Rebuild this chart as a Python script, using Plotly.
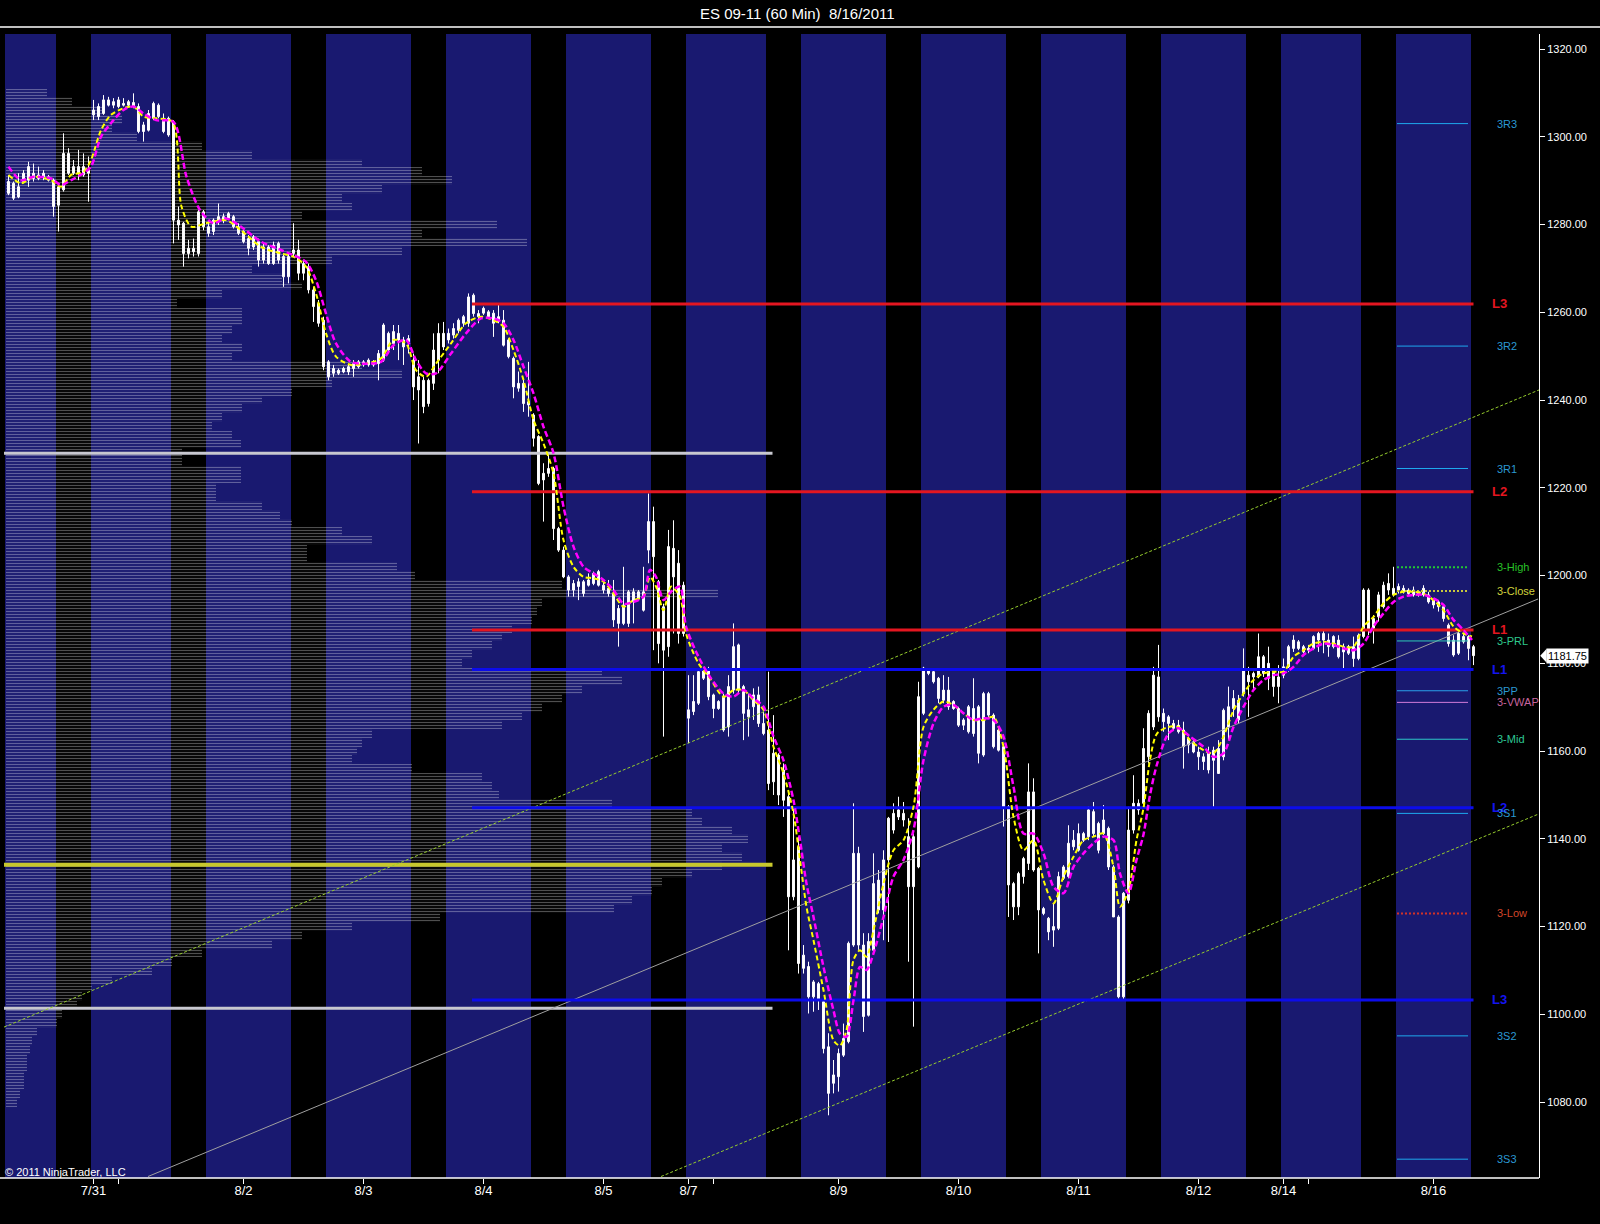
import plotly.graph_objects as go

# ---------------- data ----------------
opens = [
    1289.8, 1289.4, 1286.3, 1289.8, 1290.1, 1291.7, 1290.5, 1291.7, 1290.9, 1290.1,
    1284.4, 1287.9, 1296.2, 1291.7, 1293.2, 1291.3, 1292.4, 1305.0, 1306.9, 1305.3,
    1308.4, 1307.2, 1306.9, 1307.6, 1307.2, 1307.8, 1306.9, 1301.2, 1301.5, 1304.2,
    1307.2, 1304.2, 1300.4, 1303.4, 1281.0, 1280.3, 1273.4, 1274.6, 1273.4, 1282.9,
    1279.5, 1278.4, 1280.6, 1281.8, 1281.4, 1281.8, 1279.5, 1278.4, 1276.8, 1274.9,
    1276.1, 1271.9, 1274.9, 1271.1, 1275.7, 1272.7, 1268.1, 1273.4, 1274.2, 1268.9,
    1270.4, 1265.1, 1262.0, 1258.2, 1248.7, 1246.1, 1246.8, 1246.4, 1247.6, 1247.2,
    1248.7, 1248.0, 1248.0, 1248.7, 1248.3, 1249.1, 1255.2, 1252.9, 1255.2, 1253.7,
    1253.3, 1249.1, 1242.3, 1244.5, 1239.2, 1243.8, 1249.1, 1255.2, 1253.7, 1254.8,
    1255.9, 1257.5, 1257.5, 1263.9, 1259.7, 1259.8, 1260.1, 1259.8, 1257.9, 1258.2,
    1253.7, 1249.5, 1242.7, 1243.8, 1238.9, 1236.6, 1231.7, 1221.8, 1223.3, 1224.4,
    1210.7, 1205.8, 1199.7, 1196.7, 1197.5, 1198.6, 1197.8, 1198.2, 1200.9, 1197.8,
    1197.1, 1195.9, 1192.5, 1189.1, 1189.1, 1196.3, 1194.8, 1196.3, 1205.8, 1212.3,
    1198.6, 1183.0, 1183.8, 1206.2, 1202.8, 1186.8, 1169.4, 1169.0, 1170.9, 1178.5,
    1178.5, 1172.8, 1169.7, 1172.4, 1165.5, 1173.9, 1184.2, 1174.7, 1167.8, 1170.1,
    1172.8, 1166.3, 1164.8, 1153.0, 1159.1, 1155.7, 1149.6, 1126.8, 1138.2, 1110.5,
    1110.9, 1104.0, 1107.0, 1102.9, 1092.6, 1084.3, 1085.8, 1090.7, 1093.8, 1115.8,
    1136.7, 1115.8, 1099.8, 1114.6, 1130.6, 1123.8, 1135.2, 1142.0, 1145.0, 1145.8,
    1140.5, 1129.1, 1133.6, 1168.6, 1178.5, 1178.1, 1176.6, 1171.6, 1173.9, 1169.7,
    1169.7, 1165.9, 1164.4, 1169.7, 1159.5, 1159.1, 1173.1, 1168.2, 1160.2, 1161.0,
    1147.3, 1129.8, 1124.5, 1131.4, 1134.4, 1150.7, 1133.3, 1124.1, 1121.9, 1119.2,
    1119.6, 1131.0, 1131.4, 1138.2, 1141.2, 1139.7, 1140.5, 1146.2, 1143.5, 1141.2,
    1142.4, 1133.6, 1122.2, 1104.0, 1126.0, 1142.0, 1148.1, 1148.1, 1158.7, 1165.5,
    1176.9, 1166.7, 1167.8, 1166.3, 1164.4, 1164.8, 1161.4, 1162.1, 1159.8, 1158.7,
    1155.7, 1160.2, 1154.9, 1158.7, 1165.5, 1169.7, 1171.6, 1173.1, 1177.3, 1176.9,
    1176.9, 1181.5, 1176.6, 1178.5, 1174.7, 1177.3, 1179.2, 1183.4, 1184.9, 1183.8,
    1183.0, 1183.4, 1185.3, 1186.8, 1185.3, 1183.8, 1185.3, 1182.6, 1183.8, 1181.1,
    1181.1, 1186.1, 1196.7, 1188.0, 1190.6, 1192.9, 1196.7, 1197.1, 1196.7, 1197.1,
    1195.9, 1196.7, 1195.6, 1195.6, 1195.6, 1194.4, 1194.0, 1192.9, 1188.7, 1185.3,
    1182.3, 1186.1, 1186.1, 1183.8,
]
highs = [
    1291.3, 1289.8, 1291.7, 1292.4, 1294.3, 1293.9, 1293.2, 1292.4, 1291.3, 1290.5,
    1289.4, 1300.8, 1297.4, 1294.7, 1297.0, 1296.2, 1295.5, 1308.4, 1307.6, 1309.5,
    1309.1, 1308.8, 1309.1, 1308.8, 1308.4, 1309.9, 1307.6, 1303.4, 1306.1, 1308.0,
    1307.6, 1305.3, 1304.6, 1303.8, 1284.1, 1280.6, 1276.5, 1276.8, 1283.3, 1283.3,
    1281.0, 1281.4, 1284.8, 1282.5, 1282.9, 1282.2, 1280.3, 1278.7, 1277.6, 1277.6,
    1276.8, 1275.7, 1275.3, 1276.1, 1276.1, 1273.4, 1273.4, 1280.3, 1276.5, 1271.9,
    1271.1, 1265.8, 1262.8, 1259.0, 1249.1, 1248.0, 1247.2, 1247.6, 1248.0, 1249.1,
    1249.1, 1249.1, 1249.5, 1249.1, 1251.4, 1257.5, 1255.6, 1257.1, 1257.1, 1254.4,
    1254.8, 1250.6, 1249.1, 1245.3, 1244.9, 1255.2, 1257.5, 1257.8, 1256.3, 1257.5,
    1258.6, 1259.4, 1264.3, 1264.3, 1260.5, 1261.3, 1260.5, 1260.5, 1261.7, 1260.5,
    1254.1, 1249.9, 1246.5, 1244.6, 1248.7, 1237.0, 1232.0, 1225.6, 1228.2, 1224.8,
    1211.1, 1206.6, 1200.1, 1199.0, 1199.4, 1199.0, 1200.5, 1200.9, 1201.3, 1198.6,
    1199.0, 1199.0, 1193.3, 1202.0, 1196.7, 1197.1, 1196.7, 1202.0, 1218.7, 1215.7,
    1199.0, 1193.6, 1210.4, 1212.6, 1205.8, 1198.6, 1177.3, 1177.3, 1178.9, 1179.2,
    1179.2, 1173.1, 1171.6, 1173.1, 1177.3, 1189.1, 1184.5, 1175.1, 1173.1, 1174.3,
    1174.7, 1169.0, 1178.1, 1168.2, 1159.5, 1157.2, 1150.4, 1147.3, 1140.5, 1115.8,
    1112.0, 1107.8, 1107.4, 1103.3, 1095.7, 1089.6, 1092.2, 1097.9, 1116.6, 1148.1,
    1138.2, 1118.5, 1118.5, 1136.7, 1132.9, 1137.4, 1145.0, 1148.1, 1149.6, 1148.4,
    1144.7, 1141.2, 1175.8, 1179.2, 1178.9, 1178.9, 1176.9, 1177.3, 1176.9, 1171.6,
    1170.1, 1167.5, 1170.5, 1176.6, 1170.5, 1173.5, 1173.5, 1168.6, 1165.2, 1161.4,
    1147.7, 1130.2, 1132.5, 1135.9, 1157.2, 1153.8, 1133.6, 1124.5, 1122.2, 1125.3,
    1132.5, 1134.0, 1143.1, 1142.0, 1143.5, 1141.6, 1147.3, 1148.4, 1143.9, 1147.7,
    1142.8, 1134.0, 1122.6, 1127.9, 1147.3, 1154.5, 1149.0, 1165.2, 1169.3, 1179.2,
    1184.2, 1169.7, 1168.2, 1167.1, 1167.1, 1166.7, 1163.3, 1162.9, 1161.0, 1159.5,
    1161.0, 1161.0, 1162.5, 1169.7, 1174.7, 1173.9, 1172.8, 1183.4, 1179.2, 1178.1,
    1186.8, 1181.9, 1183.8, 1178.8, 1179.6, 1181.1, 1184.2, 1186.4, 1185.3, 1184.2,
    1184.2, 1186.4, 1187.2, 1187.6, 1186.8, 1186.4, 1186.4, 1184.5, 1184.2, 1186.1,
    1186.8, 1197.1, 1197.1, 1191.0, 1196.3, 1198.6, 1200.5, 1202.0, 1198.2, 1197.8,
    1197.1, 1197.5, 1196.7, 1197.8, 1196.3, 1194.8, 1194.4, 1193.3, 1189.1, 1186.4,
    1187.2, 1186.8, 1186.4, 1184.2,
]
lows = [
    1286.7, 1285.6, 1286.0, 1289.4, 1288.6, 1289.8, 1290.1, 1290.1, 1289.8, 1281.8,
    1278.4, 1287.5, 1291.3, 1291.3, 1290.1, 1290.9, 1285.2, 1303.8, 1303.8, 1305.0,
    1306.9, 1306.5, 1306.5, 1306.9, 1306.9, 1306.5, 1300.8, 1298.9, 1301.2, 1303.8,
    1304.2, 1300.8, 1300.0, 1275.7, 1276.5, 1270.4, 1272.3, 1272.7, 1272.7, 1278.7,
    1277.2, 1277.6, 1279.9, 1280.3, 1281.0, 1279.1, 1277.6, 1275.7, 1273.0, 1274.2,
    1270.4, 1271.1, 1270.8, 1270.8, 1271.1, 1265.8, 1266.6, 1272.7, 1267.3, 1267.3,
    1264.3, 1257.8, 1256.7, 1246.8, 1244.5, 1245.3, 1245.7, 1246.1, 1245.7, 1245.3,
    1247.2, 1247.6, 1247.6, 1247.6, 1244.5, 1248.7, 1251.0, 1251.4, 1249.1, 1248.0,
    1250.6, 1240.0, 1230.1, 1237.0, 1238.5, 1242.3, 1246.1, 1251.4, 1252.9, 1254.0,
    1255.2, 1256.7, 1256.7, 1259.0, 1257.5, 1259.4, 1258.6, 1254.4, 1257.5, 1252.2,
    1249.5, 1240.4, 1241.9, 1237.3, 1236.2, 1229.4, 1220.6, 1212.3, 1222.5, 1208.1,
    1205.4, 1199.4, 1195.2, 1195.2, 1194.4, 1195.2, 1197.5, 1197.8, 1197.5, 1195.9,
    1195.2, 1188.3, 1183.8, 1188.7, 1188.3, 1189.1, 1194.4, 1191.8, 1202.8, 1183.0,
    1180.0, 1163.3, 1181.5, 1186.8, 1184.5, 1186.1, 1161.8, 1168.2, 1170.5, 1176.2,
    1171.6, 1167.5, 1169.4, 1164.4, 1163.3, 1173.1, 1173.1, 1162.5, 1163.3, 1167.1,
    1165.5, 1163.6, 1151.1, 1150.0, 1147.7, 1145.0, 1114.6, 1126.0, 1109.3, 1109.3,
    1100.2, 1100.6, 1101.0, 1091.1, 1077.0, 1082.0, 1082.4, 1090.3, 1093.4, 1115.4,
    1114.7, 1096.0, 1099.5, 1113.9, 1123.0, 1116.9, 1116.5, 1141.2, 1144.3, 1142.8,
    1112.0, 1097.2, 1133.3, 1168.2, 1177.3, 1175.4, 1170.9, 1170.9, 1169.4, 1169.4,
    1165.5, 1164.8, 1164.0, 1163.3, 1157.2, 1158.7, 1167.8, 1160.6, 1159.9, 1142.8,
    1122.2, 1121.5, 1122.6, 1129.8, 1132.9, 1132.5, 1113.9, 1122.6, 1116.9, 1115.4,
    1119.2, 1130.6, 1131.0, 1137.4, 1137.1, 1139.3, 1139.7, 1140.5, 1136.7, 1140.9,
    1132.9, 1122.2, 1103.6, 1103.3, 1125.3, 1141.2, 1145.5, 1147.3, 1157.2, 1164.8,
    1166.7, 1164.4, 1162.5, 1164.8, 1164.0, 1156.0, 1159.5, 1159.5, 1155.7, 1155.7,
    1154.9, 1147.3, 1154.9, 1157.9, 1162.5, 1167.8, 1166.3, 1172.4, 1167.8, 1173.9,
    1176.6, 1176.9, 1173.9, 1172.4, 1170.9, 1176.6, 1178.1, 1182.6, 1183.0, 1182.3,
    1182.3, 1183.0, 1182.6, 1182.3, 1181.5, 1183.4, 1181.1, 1178.8, 1181.9, 1179.2,
    1180.7, 1185.7, 1186.4, 1184.5, 1189.5, 1192.5, 1195.6, 1195.2, 1195.9, 1195.9,
    1195.6, 1195.2, 1195.2, 1195.2, 1193.6, 1192.5, 1191.8, 1189.5, 1183.8, 1181.5,
    1181.9, 1184.5, 1180.7, 1179.6,
]
closes = [
    1287.1, 1286.0, 1288.6, 1291.7, 1293.2, 1290.5, 1291.3, 1290.9, 1290.1, 1284.1,
    1288.6, 1296.2, 1291.7, 1293.2, 1291.7, 1293.2, 1291.7, 1306.1, 1304.6, 1308.4,
    1307.2, 1308.0, 1308.4, 1307.2, 1308.0, 1306.9, 1301.2, 1302.7, 1305.3, 1307.6,
    1304.6, 1301.2, 1304.2, 1281.0, 1279.9, 1273.4, 1274.6, 1273.8, 1282.9, 1279.5,
    1278.0, 1281.0, 1281.8, 1281.0, 1282.5, 1279.5, 1278.0, 1276.1, 1274.6, 1277.2,
    1271.9, 1274.9, 1271.1, 1275.3, 1271.9, 1268.1, 1272.7, 1274.2, 1268.9, 1271.1,
    1265.1, 1261.3, 1257.5, 1247.6, 1245.3, 1247.2, 1246.1, 1247.2, 1246.4, 1248.3,
    1247.6, 1248.7, 1249.1, 1248.0, 1250.6, 1257.1, 1251.4, 1255.6, 1253.7, 1252.1,
    1254.0, 1243.0, 1245.3, 1238.5, 1244.5, 1251.4, 1255.2, 1252.1, 1255.2, 1256.3,
    1258.2, 1259.0, 1263.5, 1259.7, 1259.0, 1260.9, 1259.0, 1257.5, 1259.0, 1252.5,
    1249.9, 1243.0, 1243.8, 1239.2, 1239.6, 1231.3, 1221.0, 1223.3, 1224.4, 1210.7,
    1205.8, 1199.7, 1196.7, 1198.2, 1198.6, 1195.9, 1199.0, 1200.5, 1197.8, 1196.7,
    1195.9, 1189.9, 1189.1, 1193.3, 1196.3, 1194.0, 1196.3, 1192.1, 1212.3, 1204.3,
    1184.5, 1192.9, 1206.6, 1199.7, 1186.8, 1197.8, 1167.5, 1171.3, 1178.1, 1176.6,
    1172.4, 1169.7, 1171.3, 1164.8, 1174.7, 1183.8, 1173.9, 1168.6, 1169.4, 1172.8,
    1166.3, 1164.0, 1152.6, 1159.5, 1150.0, 1148.8, 1126.8, 1135.2, 1111.6, 1113.5,
    1104.0, 1107.4, 1103.3, 1092.2, 1082.0, 1086.2, 1091.1, 1094.5, 1116.2, 1136.7,
    1115.8, 1099.5, 1116.6, 1129.8, 1123.8, 1135.2, 1144.7, 1145.8, 1146.6, 1144.3,
    1129.1, 1140.5, 1172.4, 1178.9, 1177.7, 1175.8, 1172.0, 1173.9, 1170.1, 1171.3,
    1165.9, 1167.1, 1170.1, 1164.0, 1170.1, 1173.1, 1168.2, 1161.0, 1164.8, 1147.3,
    1129.5, 1124.5, 1132.1, 1135.5, 1150.7, 1132.9, 1123.8, 1123.0, 1118.8, 1120.0,
    1131.4, 1133.6, 1139.0, 1139.7, 1137.4, 1141.2, 1146.6, 1141.2, 1137.4, 1144.3,
    1133.6, 1122.2, 1104.0, 1127.6, 1142.0, 1148.1, 1146.6, 1160.6, 1168.6, 1177.3,
    1167.8, 1168.6, 1166.3, 1165.2, 1165.9, 1161.0, 1162.9, 1159.8, 1158.7, 1157.6,
    1159.5, 1157.9, 1160.6, 1169.3, 1170.1, 1172.0, 1167.1, 1178.5, 1175.8, 1177.7,
    1181.5, 1177.7, 1180.0, 1174.7, 1176.9, 1179.2, 1183.8, 1185.3, 1183.4, 1182.6,
    1183.4, 1186.1, 1186.8, 1185.3, 1183.8, 1186.1, 1181.5, 1183.8, 1182.3, 1183.8,
    1186.4, 1196.7, 1187.6, 1190.2, 1195.6, 1197.8, 1198.2, 1195.6, 1197.5, 1196.3,
    1196.7, 1195.6, 1196.3, 1197.1, 1194.0, 1193.3, 1192.9, 1190.2, 1184.5, 1181.9,
    1186.8, 1184.9, 1183.4, 1181.75,
]

# overnight (globex) session spans, in bar positions
session_start = [-0.7, 16.5, 39.5, 63.5, 87.5, 111.5, 135.5, 158.5, 182.5, 206.5, 230.5, 254.5, 277.5]
session_end = [9.5, 32.5, 56.5, 80.5, 104.5, 128.5, 151.5, 175.5, 199.5, 223.5, 247.5, 270.5, 292.5]

# first bar of each date
date_tick_bars = [17, 22, 47, 71, 95, 119, 136, 141, 166, 190, 214, 238, 255, 260, 285]
date_tick_labels = ["7/31", "", "8/2", "8/3", "8/4", "8/5", "8/7", "", "8/9", "8/10",
                    "8/11", "8/12", "8/14", "", "8/16"]

# fast (yellow) and slow (magenta) moving averages
fast_x = [0, 2.5, 5, 8.5, 10.5, 12.5, 15, 16.5, 18.5, 20.5, 23, 25, 27, 29.5,
          32.8, 34.6, 36.6, 39.5,
          43.5, 46.5, 50.5, 54.5, 57, 59.5, 61.5, 63.5, 65.5, 68.5, 71.5, 74.5, 77, 79.5,
          81.5, 83.5, 85.5, 88.5, 91.5, 94.5, 97,
          99, 101, 103, 105, 107, 109, 111, 113, 115, 117, 119, 121, 123, 125, 127,
          128.3, 129.5, 131, 132.5, 134.3, 135.5, 138, 140.3,
          143, 145, 147, 149, 151, 153, 155, 157,
          158.3, 159.6, 161, 163, 165, 166.3, 167.6, 169, 170.3, 171.6, 173,
          175, 177, 179, 181, 183, 185, 187, 189, 191, 193, 195, 197, 199, 201, 203, 205,
          207, 209, 211, 213, 215, 217, 219, 221,
          222.3, 224, 225.6, 227, 228.3, 229.7,
          232, 234, 236.3,
          239, 241, 243, 245, 247, 249, 251, 253, 255, 257, 259, 261, 263, 265, 267, 269,
          271, 273, 275, 277, 279, 281, 283, 285, 287, 289, 291,
          292.7]
fast_y = [1291.3, 1289.4, 1290.9, 1290.1, 1288.6, 1291.3, 1292.0, 1294.7, 1301.5, 1305.0,
          1306.5, 1306.9, 1304.6, 1304.2,
          1303.4, 1284.1, 1279.5, 1280.3,
          1281.0, 1278.7, 1274.9, 1273.4, 1272.7, 1270.4, 1264.3, 1255.2, 1249.9, 1248.0,
          1248.3, 1249.5, 1253.7, 1252.9, 1246.8, 1245.3, 1248.3, 1252.9, 1257.5, 1259.0, 1258.2,
          1256.7, 1251.4, 1244.6, 1235.5, 1230.1, 1223.3, 1208.1, 1202.0, 1199.7, 1199.4,
          1198.6, 1195.9, 1192.9, 1194.4, 1195.2,
          1199.7, 1197.5, 1192.1, 1197.5, 1195.2, 1186.8, 1180.0, 1176.6,
          1172.4, 1173.9, 1173.9, 1171.6, 1169.4, 1161.0, 1154.9, 1145.8,
          1135.2, 1124.5, 1116.9, 1105.5, 1094.1, 1092.9, 1096.4, 1112.4, 1114.6, 1113.1, 1119.2,
          1129.8, 1137.4, 1139.7, 1147.3, 1165.5, 1169.4, 1171.3, 1170.5, 1168.6, 1167.1,
          1167.1, 1167.8, 1161.0, 1145.0, 1137.4, 1139.7, 1130.6, 1125.3, 1131.4, 1135.9,
          1139.7, 1140.5, 1141.2, 1133.6,
          1124.5, 1128.3, 1139.7, 1147.0, 1158.0, 1164.0,
          1165.5, 1165.5, 1162.5,
          1160.2, 1159.5, 1163.3, 1169.3, 1173.1, 1176.2, 1177.7, 1178.1, 1178.1, 1181.5,
          1183.0, 1184.5, 1184.9, 1184.5, 1183.8, 1183.8, 1188.4, 1190.6, 1193.7, 1195.6,
          1196.3, 1196.3, 1195.9, 1194.4, 1192.1, 1188.4, 1186.8,
          1186.1]
slow_x = [0, 2.5, 5, 8.5, 10.5, 12.5, 15, 16.5, 18.5, 20.5, 23, 25, 27, 29.5,
          33, 35.6, 38.3, 41,
          43.5, 46.5, 50.5, 54.5, 57, 59.5, 61.5, 63.5, 65.5, 68.5, 71.5, 74.5, 77, 79.5,
          81.5, 83.5, 85.5, 88.5, 91.5, 94.5, 97,
          99, 101, 103, 105, 107, 109, 111, 113, 115, 117, 119, 121, 123, 125, 127,
          128.3, 129.5, 131, 132.5, 134.3, 135.5, 138, 140.3,
          143, 145, 147, 149, 151, 153, 155, 157,
          158.3, 159.6, 161, 163, 165, 166.3, 167.6, 169, 170.3, 171.6, 173,
          175, 177, 179, 181, 183, 185, 187, 189, 191, 193, 195, 197, 199, 201, 203, 205,
          207, 209, 211, 213, 215, 217, 219, 221,
          222.3, 224, 225.6, 227, 228.3, 229.7,
          232, 234, 236.3,
          239, 241, 243, 245, 247, 249, 251, 253, 255, 257, 259, 261, 263, 265, 267, 269,
          271, 273, 275, 277, 279, 281, 283, 285, 287, 289, 291,
          292.7]
slow_y = [1293.2, 1290.1, 1290.9, 1290.5, 1289.0, 1290.1, 1291.7, 1293.2, 1300.0, 1303.1,
          1306.1, 1306.9, 1305.3, 1303.8,
          1303.4, 1290.9, 1283.3, 1280.3,
          1281.4, 1279.5, 1276.1, 1274.2, 1273.0, 1271.5, 1267.3, 1259.7, 1252.9, 1248.7,
          1248.3, 1248.7, 1252.5, 1253.7, 1249.1, 1246.1, 1246.1, 1250.6, 1255.2, 1258.6, 1258.6,
          1257.5, 1253.7, 1247.6, 1241.5, 1233.9, 1227.9, 1215.7, 1206.6, 1202.0, 1200.5,
          1199.0, 1196.7, 1193.6, 1194.0, 1195.2,
          1201.3, 1199.7, 1194.4, 1196.3, 1197.5, 1188.4, 1181.5, 1176.9,
          1173.1, 1172.4, 1173.9, 1172.0, 1170.1, 1163.3, 1157.9, 1148.8,
          1139.7, 1129.8, 1122.2, 1110.8, 1100.9, 1095.6, 1094.9, 1103.2, 1110.8, 1110.1, 1113.9,
          1122.2, 1131.4, 1135.2, 1142.0, 1157.9, 1166.3, 1170.1, 1170.5, 1168.6, 1167.1,
          1167.5, 1167.1, 1163.3, 1151.9, 1141.2, 1141.2, 1136.7, 1129.1, 1127.6, 1133.6,
          1136.7, 1139.0, 1140.5, 1139.7,
          1132.1, 1127.6, 1135.2, 1141.0, 1150.0, 1157.0,
          1164.0, 1165.2, 1163.3,
          1161.0, 1158.7, 1159.5, 1165.5, 1170.1, 1173.9, 1176.2, 1177.3, 1177.7, 1179.2,
          1181.9, 1183.4, 1184.5, 1184.2, 1183.4, 1183.0, 1184.5, 1188.4, 1191.4, 1194.0,
          1195.2, 1195.6, 1195.6, 1194.8, 1193.3, 1189.9, 1187.6,
          1185.3]

# volume profile (2-point bins, length in bar units)
profile_price = [1080, 1082, 1084, 1086, 1088, 1090, 1092, 1094, 1096, 1098,
                 1100, 1102, 1104, 1106, 1108, 1110, 1112, 1114, 1116, 1118,
                 1120, 1122, 1124, 1126, 1128, 1130, 1132, 1134, 1136, 1138,
                 1140, 1142, 1144, 1146, 1148, 1150, 1152, 1154, 1156, 1158,
                 1160, 1162, 1164, 1166, 1168, 1170, 1172, 1174, 1176, 1178,
                 1180, 1182, 1184, 1186, 1188, 1190, 1192, 1194, 1196, 1198,
                 1200, 1202, 1204, 1206, 1208, 1210, 1212, 1214, 1216, 1218,
                 1220, 1222, 1224, 1226, 1228, 1230, 1232, 1234, 1236, 1238,
                 1240, 1242, 1244, 1246, 1248, 1250, 1252, 1254, 1256, 1258,
                 1260, 1262, 1264, 1266, 1268, 1270, 1272, 1274, 1276, 1278,
                 1280, 1282, 1284, 1286, 1288, 1290, 1292, 1294, 1296, 1298,
                 1300, 1302, 1304, 1306, 1308, 1310]
profile_len = [2.2, 2.8, 3.6, 3.6, 4.2, 4.2, 4.8, 5.2, 6.2, 10.2,
               11.2, 14.2, 15.2, 17.2, 21.2, 29.2, 33.2, 39.2, 53.2, 59.2,
               69.2, 86.8, 121.6, 125.2, 129.2, 131.2, 137.2, 143.2, 147.2, 143.2,
               148.4, 145.2, 139.2, 137.2, 121.2, 98.6, 97.2, 95.2, 81.2, 69.2,
               70.2, 71.2, 73.2, 99.2, 103.2, 107.2, 111.2, 115.2, 123.2, 119.2,
               91.2, 93.2, 97.2, 99.2, 101.2, 105.2, 106.2, 107.2, 142.4, 111.2,
               81.8, 78.2, 60.2, 60.2, 73.2, 67.2, 57.2, 54.8, 51.2, 42.0,
               42.0, 47.0, 47.0, 35.2, 35.2, 47.0, 45.2, 41.2, 43.2, 47.2,
               51.2, 57.2, 65.2, 79.2, 71.2, 45.2, 47.2, 43.2, 45.2, 47.2,
               47.2, 34.2, 43.2, 59.2, 55.2, 49.2, 65.2, 79.2, 104.2, 83.2,
               98.2, 59.2, 69.2, 67.2, 75.2, 89.2, 83.2, 71.2, 49.2, 39.2,
               26.2, 21.2, 23.2, 19.2, 13.2, 8.2]
profile_marks = [1227.9, 1101.4]   # white value-area lines
profile_poc = 1134.1               # yellow point of control
profile_mark_end = 152.8

red_levels = [1261.9, 1219.1, 1187.6]
red_names = ["L3", "L2", "L1"]
blue_levels = [1178.6, 1147.1, 1103.3]
blue_names = ["L1", "L2", "L3"]
level_from, level_to = 92.7, 293.0

pivot_names = ["3R3", "3R2", "3R1", "3-High", "3-Close", "3-PRL", "3PP", "3-VWAP",
               "3-Mid", "3S1", "3-Low", "3S2", "3S3"]
pivot_values = [1303.0, 1252.3, 1224.4, 1201.9, 1196.5, 1185.1, 1173.75, 1171.1,
                1162.7, 1145.8, 1123.0, 1095.1, 1067.0]
pivot_from, pivot_to = 277.7, 291.9

channel_upper_x, channel_upper_y = [-0.9, 306.1], [1097.1, 1242.3]
channel_lower_x, channel_lower_y = [130.5, 305.9], [1063.05, 1145.6]
channel_mid_x, channel_mid_y = [27.9, 305.9], [1063.05, 1194.66]

last_price = 1181.75

# ---------------- styles ----------------
X_RANGE = [-0.9, 306.1]
Y_RANGE = [1062.71, 1323.42]
BAND = "#191970"
NARROW = "Liberation Sans Narrow, Arial Narrow, Liberation Sans, Arial, sans-serif"
SANS = "Liberation Sans, Arial, sans-serif"

pivot_line_col = {"3R3": "#1ea8ee", "3R2": "#1ea8ee", "3R1": "#1ea8ee", "3-High": "#22c832",
                  "3-Close": "#c8c83c", "3-PRL": "#2ec8b4", "3PP": "#2aa0ea",
                  "3-VWAP": "#d07ad8", "3-Mid": "#2ec8c8", "3S1": "#1ea8ee",
                  "3-Low": "#d23228", "3S2": "#1ea8ee", "3S3": "#1ea8ee"}
pivot_text_col = {"3R3": "#2b98d2", "3R2": "#2b98d2", "3R1": "#2b98d2", "3-High": "#28c028",
                  "3-Close": "#d2d23c", "3-PRL": "#2ec88c", "3PP": "#2b98d2",
                  "3-VWAP": "#c8649e", "3-Mid": "#2ec896", "3S1": "#2b98d2",
                  "3-Low": "#d2462a", "3S2": "#2b98d2", "3S3": "#2b98d2"}
pivot_dash = {"3-High": "dot", "3-Close": "dot", "3-Low": "dot"}

fig = go.Figure()

# volume profile
fig.add_trace(go.Bar(
    y=profile_price, x=profile_len, base=-0.5, orientation="h", width=2,
    marker=dict(color="rgba(0,0,0,0)", line=dict(width=0),
                pattern=dict(shape="-", fgcolor="rgba(255,255,255,0.62)",
                             bgcolor="rgba(0,0,0,0)", size=3, solidity=0.4)),
    hoverinfo="skip", showlegend=False))

# value area / POC lines
for v in profile_marks:
    fig.add_trace(go.Scatter(x=[X_RANGE[0], profile_mark_end], y=[v, v], mode="lines",
                             line=dict(color="rgb(200,200,208)", width=3),
                             hoverinfo="skip", showlegend=False))
fig.add_trace(go.Scatter(x=[X_RANGE[0], profile_mark_end], y=[profile_poc, profile_poc],
                         mode="lines", line=dict(color="rgb(200,200,45)", width=4),
                         hoverinfo="skip", showlegend=False))

# channel lines
fig.add_trace(go.Scatter(x=channel_mid_x, y=channel_mid_y, mode="lines",
                         line=dict(color="rgb(160,160,160)", width=1),
                         hoverinfo="skip", showlegend=False))
for cx, cy in [(channel_upper_x, channel_upper_y), (channel_lower_x, channel_lower_y)]:
    fig.add_trace(go.Scatter(x=cx, y=cy, mode="lines",
                             line=dict(color="rgb(150,205,45)", width=1, dash="3px,2px"),
                             hoverinfo="skip", showlegend=False))

# candles
n = min(len(opens), len(highs), len(lows), len(closes))
bars = list(range(n))
fig.add_trace(go.Candlestick(
    x=bars, open=opens[:n], high=highs[:n], low=lows[:n], close=closes[:n],
    increasing=dict(line=dict(color="white", width=1), fillcolor="white"),
    decreasing=dict(line=dict(color="white", width=1), fillcolor="white"),
    whiskerwidth=0, hoverinfo="skip", showlegend=False))

# L levels
for v in red_levels:
    fig.add_trace(go.Scatter(x=[level_from, level_to], y=[v, v], mode="lines",
                             line=dict(color="rgb(228,22,32)", width=3),
                             hoverinfo="skip", showlegend=False))
for v in blue_levels:
    fig.add_trace(go.Scatter(x=[level_from, level_to], y=[v, v], mode="lines",
                             line=dict(color="rgb(12,12,235)", width=3),
                             hoverinfo="skip", showlegend=False))

# pivot levels
for name, v in zip(pivot_names, pivot_values):
    dotted = name in pivot_dash
    fig.add_trace(go.Scatter(x=[pivot_from, pivot_to], y=[v, v], mode="lines",
                             line=dict(color=pivot_line_col[name], width=2 if dotted else 1,
                                       dash="2px,2px" if dotted else "solid"),
                             hoverinfo="skip", showlegend=False))

# moving averages
fig.add_trace(go.Scatter(x=fast_x, y=fast_y, mode="lines",
                         line=dict(color="rgb(255,255,0)", width=2, dash="5px,3px",
                                   shape="spline", smoothing=0.8),
                         hoverinfo="skip", showlegend=False))
fig.add_trace(go.Scatter(x=slow_x, y=slow_y, mode="lines",
                         line=dict(color="rgb(255,0,255)", width=2.5, dash="6px,3px",
                                   shape="spline", smoothing=0.8),
                         hoverinfo="skip", showlegend=False))

# session bands
shapes = []
for s, e in zip(session_start, session_end):
    shapes.append(dict(type="rect", xref="x", yref="paper", x0=s, x1=e, y0=0, y1=1,
                       fillcolor=BAND, line=dict(width=0), layer="below"))
# frame lines
shapes.append(dict(type="line", xref="paper", yref="paper", x0=-4 / 1535, x1=1596 / 1535,
                   y0=1 + 7 / 1144, y1=1 + 7 / 1144, line=dict(color="white", width=1.5)))
shapes.append(dict(type="line", xref="paper", yref="paper", x0=-4 / 1535, x1=1,
                   y0=0, y1=0, line=dict(color="white", width=1.5)))
# last price pointer
shapes.append(dict(type="path", xref="paper", yref="y",
                   path=f"M 1.0008,{last_price} L 1.0050,{last_price + 1.6} L 1.0050,{last_price - 1.6} Z",
                   fillcolor="white", line=dict(width=0)))

annotations = []
for name, v in zip(red_names, red_levels):
    annotations.append(dict(x=296.3, y=v, xref="x", yref="y", text="<b>" + name + "</b>",
                            showarrow=False, xanchor="left", yanchor="middle",
                            font=dict(family=SANS, size=13, color="rgb(228,22,32)")))
for name, v in zip(blue_names, blue_levels):
    annotations.append(dict(x=296.3, y=v, xref="x", yref="y", text="<b>" + name + "</b>",
                            showarrow=False, xanchor="left", yanchor="middle",
                            font=dict(family=SANS, size=13, color="rgb(20,20,240)")))
for name, v in zip(pivot_names, pivot_values):
    annotations.append(dict(x=297.3, y=v, xref="x", yref="y", text=name, showarrow=False,
                            xanchor="left", yanchor="middle",
                            font=dict(family=SANS, size=11, color=pivot_text_col[name])))
annotations.append(dict(x=(797 - 4) / 1535, y=1 + 21 / 1144, xref="paper", yref="paper",
                        text="ES 09-11 (60 Min)\u00a0\u00a08/16/2011", showarrow=False,
                        xanchor="center", yanchor="middle",
                        font=dict(family=NARROW, size=15, color="white")))
annotations.append(dict(x=-1 / 1535, y=6 / 1144, xref="paper", yref="paper",
                        text="\u00a9 2011 NinjaTrader, LLC", showarrow=False,
                        xanchor="left", yanchor="middle",
                        font=dict(family=NARROW, size=11, color="white")))
annotations.append(dict(x=1, xshift=7, y=last_price, xref="paper", yref="y",
                        text="1181.75", showarrow=False, xanchor="left", yanchor="middle",
                        bgcolor="white", borderpad=1,
                        font=dict(family=SANS, size=11, color="black")))

fig.update_layout(
    width=1600, height=1224,
    margin=dict(l=4, r=61, t=34, b=46, autoexpand=False),
    paper_bgcolor="black", plot_bgcolor="black",
    showlegend=False, boxgap=0.45, bargap=0,
    shapes=shapes, annotations=annotations,
    xaxis=dict(range=X_RANGE, showgrid=False, zeroline=False, rangeslider=dict(visible=False),
               tickmode="array", tickvals=date_tick_bars, ticktext=date_tick_labels,
               ticks="outside", ticklen=5, tickcolor="white", tickwidth=1,
               ticklabelstandoff=-5,
               showline=False, tickfont=dict(family=NARROW, size=13, color="white")),
    yaxis=dict(range=Y_RANGE, side="right", showgrid=False, zeroline=False,
               tickmode="linear", tick0=1080, dtick=20, tickformat=".2f",
               ticks="outside", ticklen=5, tickcolor="white", tickwidth=1,
               showline=True, linecolor="white", linewidth=1,
               tickfont=dict(family=SANS, size=11, color="white")),
)

fig.write_html("out.html", config={"displayModeBar": False},
               post_script="document.body.style.margin='0px';document.body.style.overflow='hidden';")
